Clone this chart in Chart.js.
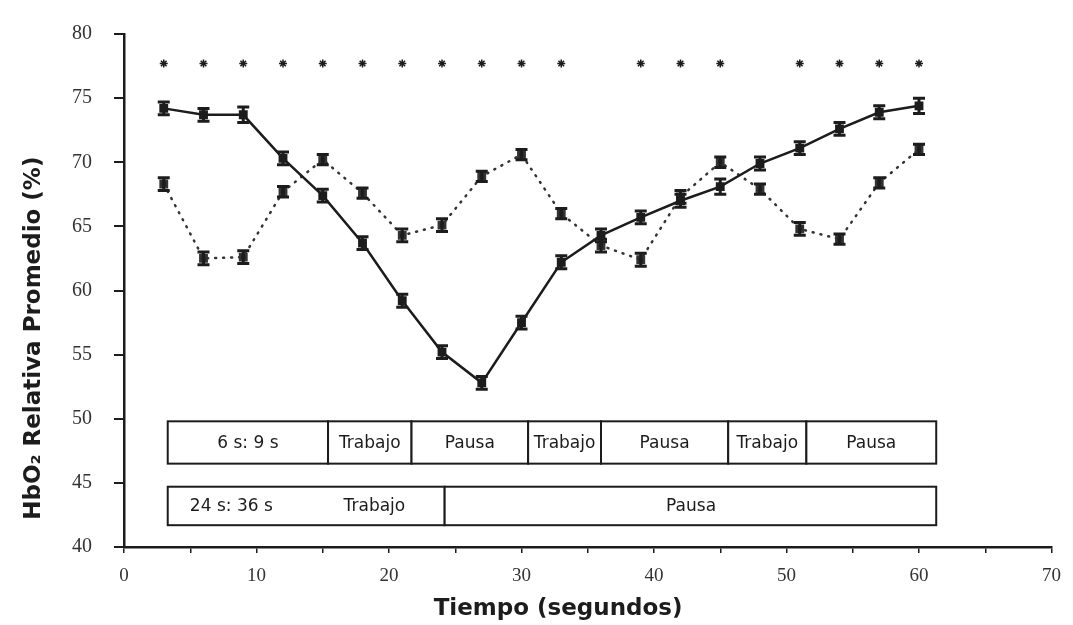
<!DOCTYPE html>
<html>
<head>
<meta charset="utf-8">
<script src="https://cdn.jsdelivr.net/npm/chart.js@4.4.1/dist/chart.umd.min.js"></script>
<style>
  html, body { margin: 0; padding: 0; background: #fff; }
  #wrap { width: 1073px; height: 625px; }
</style>
</head>
<body>
<div id="wrap"><canvas id="hbChart"></canvas></div>
<script>
// Datos (tiempo en segundos, HbO2 relativa en %)
const tiempos = [3, 6, 9, 12, 15, 18, 21, 24, 27, 30, 33, 36, 39, 42, 45, 48, 51, 54, 57, 60];
const serie24s36s = [74.2, 73.7, 73.7, 70.3, 67.4, 63.7, 59.2, 55.2, 52.8, 57.5, 62.2, 64.3, 65.7, 67.0, 68.1, 69.9, 71.1, 72.6, 73.9, 74.4];
const serie6s9s = [68.3, 62.5, 62.6, 67.7, 70.2, 67.6, 64.3, 65.1, 68.9, 70.6, 66.0, 63.5, 62.4, 67.3, 70.0, 67.9, 64.8, 64.0, 68.4, 71.0];
const error24s36s = [0.5, 0.5, 0.6, 0.5, 0.5, 0.5, 0.5, 0.5, 0.5, 0.5, 0.5, 0.5, 0.5, 0.5, 0.6, 0.5, 0.5, 0.5, 0.5, 0.6];
const error6s9s = [0.5, 0.5, 0.5, 0.4, 0.4, 0.4, 0.5, 0.5, 0.4, 0.4, 0.4, 0.5, 0.5, 0.5, 0.4, 0.4, 0.5, 0.4, 0.4, 0.4];
const tiemposAsterisco = [3, 6, 9, 12, 15, 18, 21, 24, 27, 30, 33, 39, 42, 45, 51, 54, 57, 60];
const nivelAsterisco = 77.7;

// Protocolos (limites en segundos)
const fila6s9s = [
    { desde: 3.3, hasta: 15.4, texto: '6 s: 9 s' },
    { desde: 15.4, hasta: 21.7, texto: 'Trabajo' },
    { desde: 21.7, hasta: 30.5, texto: 'Pausa' },
    { desde: 30.5, hasta: 36.0, texto: 'Trabajo' },
    { desde: 36.0, hasta: 45.6, texto: 'Pausa' },
    { desde: 45.6, hasta: 51.5, texto: 'Trabajo' },
    { desde: 51.5, hasta: 61.3, texto: 'Pausa' }
];
const fila24s36s = [
    { desde: 3.3, hasta: 24.2, textos: [['24 s: 36 s', 8.1], ['Trabajo', 18.9]] },
    { desde: 24.2, hasta: 61.3, textos: [['Pausa', 42.8]] }
];

const tituloX = 'Tiempo (segundos)';
const tituloY = 'HbO\u2082 Relativa Promedio (%)';

const puntos = (ys) => tiempos.map((t, i) => ({ x: t, y: ys[i] }));
const tinta = '#1c1c1c';

// Barras de error dibujadas con las escalas del grafico
const barrasError = {
    id: 'barrasError',
    afterDatasetsDraw(chart) {
        const ctx = chart.ctx;
        const yScale = chart.scales.y;
        chart.data.datasets.forEach((ds, di) => {
            if (!ds.errores) return;
            const meta = chart.getDatasetMeta(di);
            ctx.save();
            ctx.strokeStyle = tinta;
            ctx.lineWidth = 3;
            meta.data.forEach((p, i) => {
                const v = ds.data[i].y;
                const yTop = yScale.getPixelForValue(v + ds.errores[i]);
                const yBot = yScale.getPixelForValue(v - ds.errores[i]);
                ctx.beginPath();
                ctx.moveTo(p.x, yTop); ctx.lineTo(p.x, yBot);
                ctx.moveTo(p.x - 6, yTop); ctx.lineTo(p.x + 6, yTop);
                ctx.moveTo(p.x - 6, yBot); ctx.lineTo(p.x + 6, yBot);
                ctx.stroke();
            });
            ctx.restore();
        });
    }
};

// Cajas de protocolo
const cajasProtocolo = {
    id: 'cajasProtocolo',
    afterDatasetsDraw(chart) {
        const ctx = chart.ctx;
        const x = chart.scales.x, y = chart.scales.y;
        const dibujarFila = (segs, yAlto, yBajo) => {
            const top = y.getPixelForValue(yAlto);
            const bot = y.getPixelForValue(yBajo);
            const mid = (top + bot) / 2;
            ctx.save();
            ctx.strokeStyle = tinta;
            ctx.lineWidth = 2;
            ctx.font = '17px "DejaVu Sans"';
            ctx.textAlign = 'center';
            ctx.textBaseline = 'middle';
            segs.forEach(s => {
                const l = x.getPixelForValue(s.desde);
                const r = x.getPixelForValue(s.hasta);
                ctx.fillStyle = '#fff';
                ctx.fillRect(l, top, r - l, bot - top);
                ctx.strokeRect(l, top, r - l, bot - top);
                ctx.fillStyle = tinta;
                if (s.texto) ctx.fillText(s.texto, (l + r) / 2, mid + 1);
                (s.textos || []).forEach(([txt, pos]) => {
                    ctx.fillText(txt, x.getPixelForValue(pos), mid + 1);
                });
            });
            ctx.restore();
        };
        dibujarFila(fila6s9s, 49.8, 46.5);
        dibujarFila(fila24s36s, 44.7, 41.7);
    }
};

// Titulos de los ejes (algo descentrados como en el original)
const titulosEjes = {
    id: 'titulosEjes',
    afterDraw(chart) {
        const ctx = chart.ctx;
        const a = chart.chartArea;
        ctx.save();
        ctx.fillStyle = tinta;
        ctx.font = 'bold 23px "DejaVu Sans"';
        ctx.textAlign = 'center';
        ctx.textBaseline = 'middle';
        ctx.fillText(tituloX, a.left + (a.right - a.left) * 0.468, a.bottom + 62);
        ctx.translate(34, a.top + (a.bottom - a.top) * 0.593);
        ctx.rotate(-Math.PI / 2);
        ctx.fillText(tituloY, 0, 0);
        ctx.restore();
    }
};

const config = {
    type: 'line',
    data: {
        datasets: [
            {
                label: '24 s: 36 s',
                data: puntos(serie24s36s),
                errores: error24s36s,
                borderColor: tinta,
                backgroundColor: tinta,
                borderWidth: 2.5,
                pointStyle: 'rect',
                pointRadius: 4.5,
                tension: 0
            },
            {
                label: '6 s: 9 s',
                data: puntos(serie6s9s),
                errores: error6s9s,
                borderColor: '#333',
                backgroundColor: tinta,
                borderWidth: 2.5,
                borderDash: [1, 7],
                borderCapStyle: 'round',
                pointStyle: 'rect',
                pointRadius: 4.5,
                tension: 0
            },
            {
                label: 'p',
                data: tiemposAsterisco.map(t => ({ x: t, y: nivelAsterisco })),
                showLine: false,
                borderColor: tinta,
                borderWidth: 1.5,
                pointStyle: 'star',
                pointRadius: 4
            }
        ]
    },
    options: {
        responsive: true,
        maintainAspectRatio: false,
        animation: false,
        layout: { padding: { left: 0, right: 19, top: 33, bottom: 0 } },
        plugins: {
            legend: { display: false },
            tooltip: { enabled: false }
        },
        scales: {
            x: {
                type: 'linear',
                min: 0,
                max: 70,
                afterFit: (s) => { s.height = 78; },
                border: { display: true, color: tinta, width: 2.5 },
                grid: { display: true, drawOnChartArea: false, drawTicks: true, tickLength: 6, color: tinta, lineWidth: 1.5 },
                ticks: {
                    stepSize: 5,
                    padding: 12,
                    color: '#333',
                    font: { family: '"Liberation Serif"', size: 19 },
                    callback: (v) => (v % 10 === 0 ? v : '')
                }
            },
            y: {
                min: 40,
                max: 80,
                afterFit: (s) => { s.width = 124; },
                border: { display: true, color: tinta, width: 2.5 },
                grid: { display: true, drawOnChartArea: false, drawTicks: true, tickLength: 10, color: tinta, lineWidth: 2 },
                ticks: {
                    stepSize: 5,
                    padding: 22,
                    color: '#333',
                    font: { family: '"Liberation Serif"', size: 20 }
                }
            }
        }
    },
    plugins: [barrasError, cajasProtocolo, titulosEjes]
};

window.onload = () => {
    const ctx = document.getElementById('hbChart').getContext('2d');
    new Chart(ctx, config);
};
</script>
</body>
</html>
